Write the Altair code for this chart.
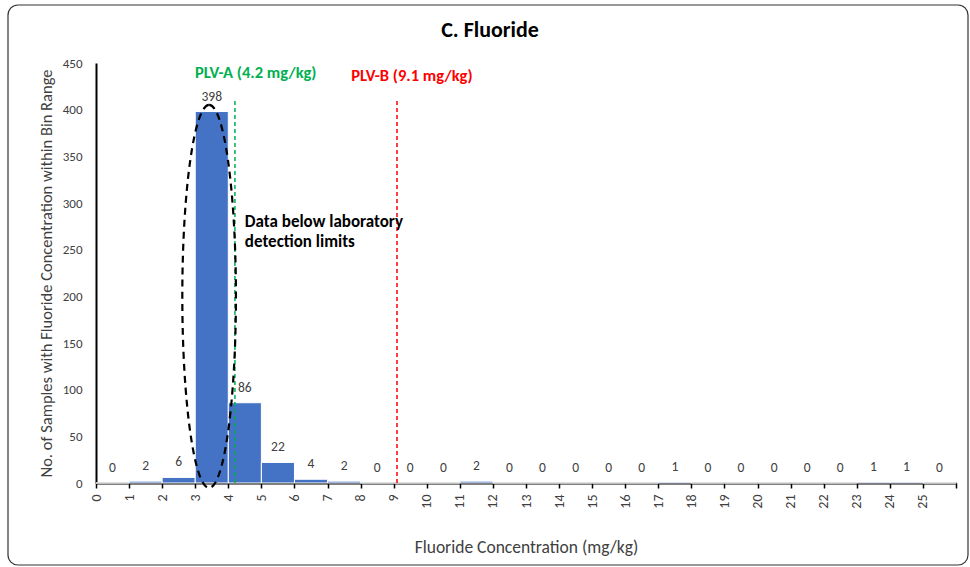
import altair as alt
import pandas as pd

# Histogram of fluoride concentrations, 1 mg/kg bins from 0 to 26
bin_start = list(range(26))
counts = [0, 2, 6, 398, 86, 22, 4, 2, 0, 0, 0, 2, 0, 0, 0, 0, 0, 1, 0, 0, 0, 0, 0, 1, 1, 0]

# Protective limit values
plv_names = ["PLV-A (4.2 mg/kg)", "PLV-B (9.1 mg/kg)"]
plv_values = [4.2, 9.1]
plv_colors = ["#00B050", "#FF0000"]
plv_rule_top = 410
plv_label_x = [4.83, 9.55]
plv_label_y = [439, 436]

# Callout for the non-detect cluster
note_lines = ["Data below laboratory", "detection limits"]
note_x = 4.5
note_y = 280
ellipse_x = 3.42
ellipse_y = 200

FONT = "Carlito, Lato, sans-serif"
TEXT_COLOR = "#404040"

bars_df = pd.DataFrame({"start": bin_start, "count": counts})
bars_df["end"] = bars_df["start"] + 1
bars_df["mid"] = bars_df["start"] + 0.5
bars_df["base"] = 0

plv_df = pd.DataFrame({
    "name": plv_names,
    "value": plv_values,
    "color": plv_colors,
    "bottom": [0, 0],
    "top": [plv_rule_top] * 2,
    "lx": plv_label_x,
    "ly": plv_label_y,
})

x_scale = alt.Scale(domain=[0, 26], nice=False, zero=False)
y_scale = alt.Scale(domain=[0, 450], nice=False)

x_axis = alt.Axis(
    values=list(range(27)),
    labelExpr="datum.value == 26 ? '' : datum.label",
    labelAngle=-90,
    labelOverlap=False,
    labelFontSize=14,
    title="Fluoride Concentration (mg/kg)",
    titleFontSize=17.5,
    titlePadding=30,
    tickSize=5,
    labelPadding=6,
)
y_axis = alt.Axis(
    values=list(range(0, 451, 50)),
    title="No. of Samples with Fluoride Concentration within Bin Range",
    titleFontSize=16.5,
    ticks=False,
    labelPadding=14,
    titlePadding=8,
)


# Every layer shares the same scale and axis definitions so they merge cleanly
def xq(field):
    return alt.X(field, scale=x_scale, axis=x_axis)


def yq(field):
    return alt.Y(field, scale=y_scale, axis=y_axis)


bars = alt.Chart(bars_df).mark_bar(
    color="#4472C4", stroke="white", strokeWidth=1
).encode(
    x=xq("start:Q"),
    x2="end:Q",
    y=yq("count:Q"),
    y2="base:Q",
)

bar_labels = alt.Chart(bars_df).mark_text(
    dy=-15, baseline="middle", fontSize=13.5, color=TEXT_COLOR, font=FONT
).encode(
    x=xq("mid:Q"),
    y=yq("count:Q"),
    text="count:Q",
)

plv_rules = alt.Chart(plv_df).mark_rule(
    strokeDash=[4, 3], strokeWidth=1.5
).encode(
    x=xq("value:Q"),
    y=yq("bottom:Q"),
    y2="top:Q",
    color=alt.Color("color:N", scale=None),
)

plv_text = alt.Chart(plv_df).mark_text(
    fontSize=16.5, fontWeight="bold", font=FONT, baseline="middle"
).encode(
    x=xq("lx:Q"),
    y=yq("ly:Q"),
    text="name:N",
    color=alt.Color("color:N", scale=None),
)

note = alt.Chart(
    alt.Data(values=[{"x": note_x, "y": note_y, "t": note_lines}])
).mark_text(
    align="left", baseline="middle", fontSize=17, fontWeight="bold",
    font=FONT, color="black", lineHeight=20
).encode(
    x=xq("x:Q"),
    y=yq("y:Q"),
    text=alt.Text("t:N"),
)

# Dashed ellipse drawn as a custom unit-box symbol (cubic Bezier ellipse)
a = 0.14
k = 0.5523
ka = round(k * a, 4)
ellipse_path = (
    f"M0,-1 C{ka},-1 {a},-{k} {a},0 "
    f"C{a},{k} {ka},1 0,1 "
    f"C-{ka},1 -{a},{k} -{a},0 "
    f"C-{a},-{k} -{ka},-1 0,-1 Z"
)
ellipse = alt.Chart(pd.DataFrame({"x": [ellipse_x], "y": [ellipse_y]})).mark_point(
    shape=ellipse_path, size=383 * 383, filled=False, stroke="black",
    strokeWidth=2.2, strokeDash=[7, 5], opacity=1
).encode(
    x=xq("x:Q"),
    y=yq("y:Q"),
)

one_row = pd.DataFrame({"t": ["C. Fluoride"]})

title = alt.Chart(one_row).mark_text(
    fontSize=22, fontWeight="bold", font=FONT, color="black", baseline="middle"
).encode(x=alt.value(394), y=alt.value(-33), text="t:N")

frame = alt.Chart(one_row).mark_rect(
    fill=None, stroke="#333333", strokeWidth=1.2, cornerRadius=10, clip=False
).encode(
    x=alt.value(-88), x2=alt.value(872), y=alt.value(-58), y2=alt.value(502)
)

chart = alt.layer(
    bars, frame, plv_rules, ellipse, bar_labels, plv_text, note, title
).properties(
    width=860,
    height=420,
    padding={"left": 96, "top": 63, "right": 14, "bottom": 84},
    autosize=alt.AutoSizeParams(type="none"),
    background="white",
).configure_view(
    stroke=None
).configure_axis(
    grid=False,
    domainColor="black",
    domainWidth=2,
    tickColor="black",
    tickWidth=1.5,
    labelFont=FONT,
    titleFont=FONT,
    labelFontSize=13,
    labelColor=TEXT_COLOR,
    titleColor=TEXT_COLOR,
    titleFontWeight="normal",
)

chart.save("out.html", embed_options={"renderer": "svg", "actions": False})
